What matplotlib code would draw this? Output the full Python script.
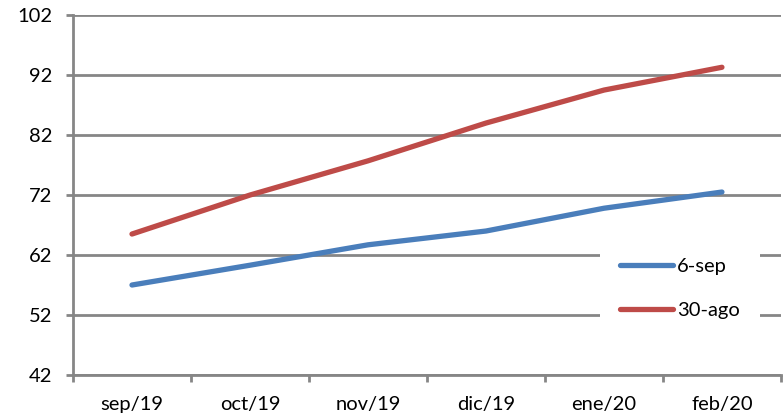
import matplotlib.pyplot as plt
import numpy as np

# valores
meses = ["sep/19", "oct/19", "nov/19", "dic/19", "ene/20", "feb/20"]
serie_6sep = [57.0, 60.3, 63.7, 66.0, 69.8, 72.5]
serie_30ago = [65.5, 72.0, 77.7, 84.0, 89.5, 93.3]
yticks = [42, 52, 62, 72, 82, 92, 102]

plt.rcParams['font.family'] = ['Lato', 'DejaVu Sans']
gris = '#868686'

fig = plt.figure(figsize=(7.84, 4.18), dpi=100)
ax = fig.add_axes([0.0931, 0.1029, 0.903, 0.861])

x = np.arange(len(meses))
ax.plot(x, serie_6sep, color='#4a7ebb', lw=3.8, solid_capstyle='round', label='6-sep', zorder=3)
ax.plot(x, serie_30ago, color='#be4b48', lw=3.8, solid_capstyle='round', label='30-ago', zorder=3)

ax.set_xlim(-0.5, len(meses) - 0.5)
ax.set_ylim(42, 102)
ax.set_yticks(yticks)
ax.yaxis.grid(True, color=gris, lw=2)
ax.set_axisbelow(True)

# ticks del eje x entre categorias, etiquetas centradas
ax.set_xticks(np.arange(-0.5, len(meses)), minor=False)
ax.set_xticklabels([])
ax.set_xticks(x, minor=True)
ax.set_xticklabels(meses, minor=True)
ax.tick_params(axis='x', which='major', length=5, width=2, color=gris)
ax.tick_params(axis='x', which='minor', length=0, pad=15, labelsize=14.5)
ax.tick_params(axis='y', length=5, width=2, color=gris, labelsize=14.5, pad=10)

for s in ['top', 'right']:
    ax.spines[s].set_visible(False)
for s in ['left', 'bottom']:
    ax.spines[s].set_color(gris)
    ax.spines[s].set_linewidth(2)

leg = ax.legend(loc='lower right', bbox_to_anchor=(0.97, 0.10), frameon=True,
                fontsize=14.5, handlelength=2.6, handletextpad=0.2, labelspacing=1.35,
                borderpad=1.0, borderaxespad=0)
leg.get_frame().set_facecolor('white')
leg.get_frame().set_edgecolor('none')
leg.get_frame().set_alpha(1)
leg.get_frame().set_boxstyle('square', pad=0)

fig.savefig('out.png', dpi=100)
